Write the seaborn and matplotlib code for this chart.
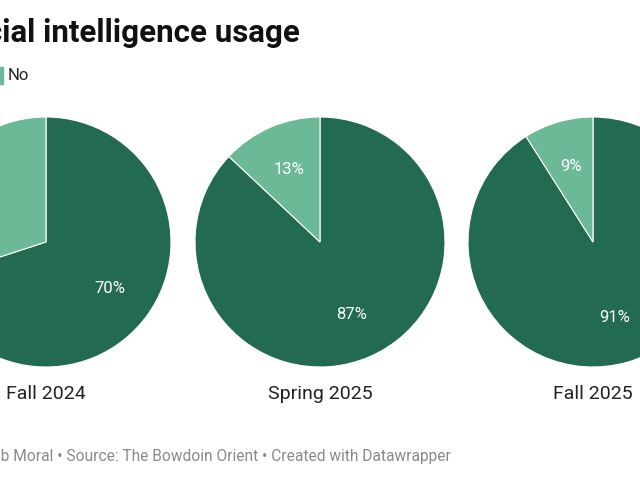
import matplotlib
matplotlib.use("Agg")
import matplotlib.pyplot as plt
import seaborn as sns

sns.set_theme(style="white")
plt.rcParams["font.family"] = ["Roboto", "DejaVu Sans"]

# data
surveys = ["Fall 2024", "Spring 2025", "Fall 2025"]
answers = ["Yes", "No"]
yes_share = [70, 87, 91]
no_share = [30, 13, 9]

colors = ["#236b50", "#6cb997"]

title = "Artificial intelligence usage"
footer = "Chart: Zainab Moral • Source: The Bowdoin Orient • Created with Datawrapper"

W, H = 640, 480
fig = plt.figure(figsize=(W / 100, H / 100), dpi=100)
fig.patch.set_facecolor("white")

# pie centres in pixels (from top-left), radius in pixels
centres_x = [46, 320, 593]
centre_y = 242
radius = 125

for i, name in enumerate(surveys):
    cx = centres_x[i]
    cy = H - centre_y
    ax = fig.add_axes([(cx - radius) / W, (cy - radius) / H,
                       2 * radius / W, 2 * radius / H])
    vals = [yes_share[i], no_share[i]]
    wedges, texts, autotexts = ax.pie(
        vals,
        colors=colors,
        startangle=90,
        counterclock=False,
        autopct=lambda p: f"{p:.0f}%",
        pctdistance=0.63,
        wedgeprops=dict(edgecolor="white", linewidth=0.8),
        textprops=dict(color="white", fontsize=12),
    )
    ax.set_xlim(-1, 1)
    ax.set_ylim(-1, 1)
    ax.set_aspect("equal")
    ax.axis("off")
    fig.text(cx / W, 1 - 394 / H, name, ha="center", va="center",
             fontsize=14, color="#222222")

# title, legend and footer (the chart is cropped on the left)
fig.text(300 / W, 1 - 33 / H, title, ha="right", va="center",
         fontsize=22.5, fontweight="bold", color="#111111")

fig.patches.append(plt.Rectangle((-8 / W, 1 - 84 / H), 11 / W, 17 / H,
                                 transform=fig.transFigure,
                                 color=colors[1], figure=fig))
fig.text(8 / W, 1 - 76 / H, answers[1], ha="left", va="center",
         fontsize=12, color="#222222")

fig.text(451 / W, 1 - 456 / H, footer, ha="right", va="center",
         fontsize=11.2, color="#8a8a8a")

fig.savefig("out.png", dpi=100)
